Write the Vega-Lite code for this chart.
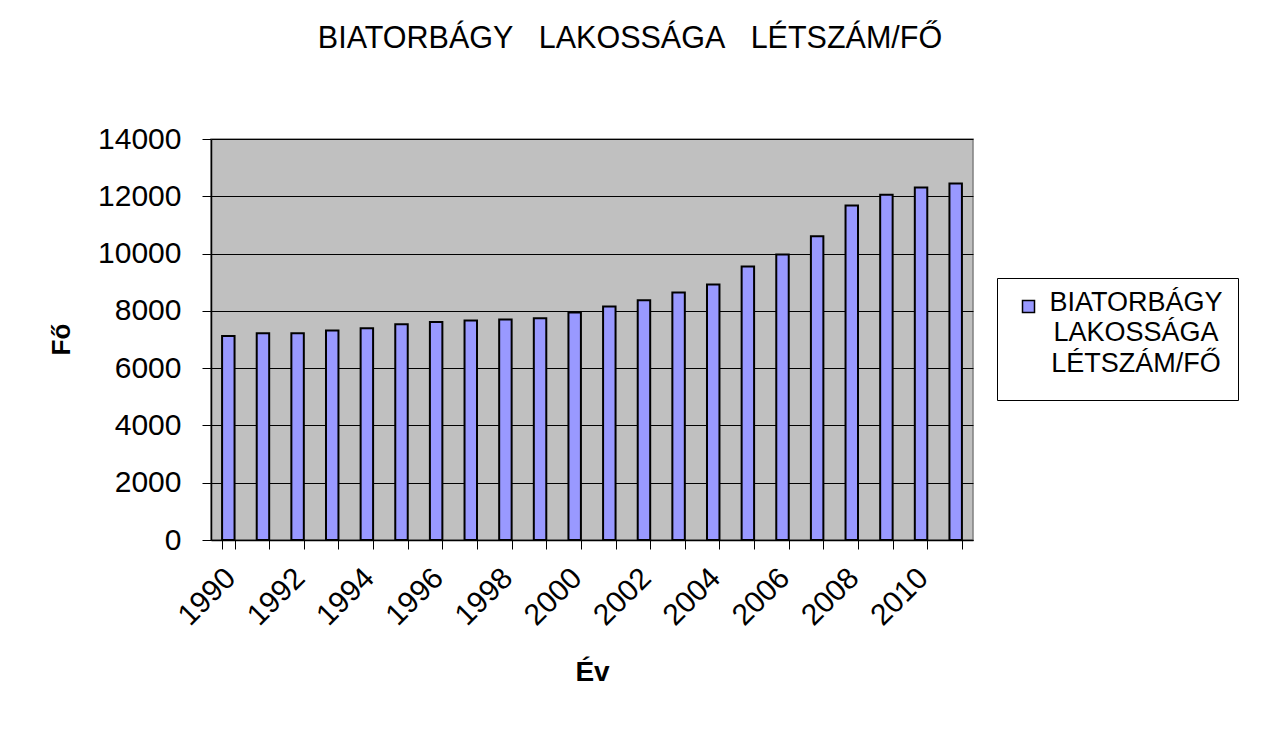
{
  "$schema": "https://vega.github.io/schema/vega-lite/v6.json",
  "width": 762,
  "height": 401,
  "autosize": {"type": "none"},
  "padding": {"left": 211, "top": 139, "right": 291, "bottom": 191},
  "background": "white",
  "title": {
    "text": "BIATORBÁGY\u00a0\u00a0 LAKOSSÁGA\u00a0\u00a0 LÉTSZÁM/FŐ",
    "anchor": "middle",
    "frame": "group",
    "dx": 38,
    "font": "Liberation Sans",
    "fontSize": 30.5,
    "fontWeight": "normal",
    "color": "black",
    "offset": 70
  },
  "data": {
    "values": [
      {"year": 1990, "population": 7120},
      {"year": 1991, "population": 7215},
      {"year": 1992, "population": 7215},
      {"year": 1993, "population": 7310},
      {"year": 1994, "population": 7390},
      {"year": 1995, "population": 7530},
      {"year": 1996, "population": 7610},
      {"year": 1997, "population": 7660},
      {"year": 1998, "population": 7700},
      {"year": 1999, "population": 7740},
      {"year": 2000, "population": 7940},
      {"year": 2001, "population": 8150},
      {"year": 2002, "population": 8370},
      {"year": 2003, "population": 8640},
      {"year": 2004, "population": 8920},
      {"year": 2005, "population": 9545},
      {"year": 2006, "population": 9965},
      {"year": 2007, "population": 10605},
      {"year": 2008, "population": 11680},
      {"year": 2009, "population": 12050},
      {"year": 2010, "population": 12310},
      {"year": 2011, "population": 12450}
    ]
  },
  "mark": {"type": "bar", "stroke": "black", "strokeWidth": 2, "opacity": 1},
  "encoding": {
    "x": {
      "field": "year",
      "type": "ordinal",
      "title": "Év",
      "scale": {"paddingInner": 0.64, "paddingOuter": 0.32},
      "axis": {
        "labelExpr": "datum.value % 2 == 0 ? datum.label : ''",
        "labelAngle": -45,
        "labelAlign": "right",
        "labelBaseline": "middle",
        "labelFont": "Liberation Sans",
        "labelFontSize": 30,
        "labelColor": "black",
        "labelOverlap": false,
        "labelPadding": 24,
        "labelOffset": 2,
        "tickBand": "extent",
        "tickColor": "black",
        "tickSize": 9,
        "tickWidth": 1,
        "domainColor": "black",
        "domainWidth": 1.5,
        "grid": false,
        "titleFont": "Liberation Sans",
        "titleFontSize": 28,
        "titleFontWeight": "bold",
        "titleColor": "black",
        "titleY": 132,
        "titleBaseline": "middle"
      }
    },
    "y": {
      "field": "population",
      "type": "quantitative",
      "title": "Fő",
      "scale": {"domain": [0, 14000], "nice": false},
      "axis": {
        "values": [0, 2000, 4000, 6000, 8000, 10000, 12000, 14000],
        "format": "d",
        "labelFont": "Liberation Sans",
        "labelFontSize": 30,
        "labelColor": "black",
        "labelPadding": 21,
        "tickColor": "black",
        "tickSize": 9,
        "domainColor": "black",
        "domainWidth": 1.5,
        "grid": true,
        "gridColor": "black",
        "gridWidth": 1,
        "gridOpacity": 1,
        "titleFont": "Liberation Sans",
        "titleFontSize": 26,
        "titleFontWeight": "bold",
        "titleColor": "black",
        "titleAngle": -90,
        "titleX": -150,
        "titleY": 200,
        "titleAlign": "center",
        "titleBaseline": "middle"
      }
    },
    "color": {
      "datum": "BIATORBÁGY LAKOSSÁGA LÉTSZÁM/FŐ",
      "type": "nominal",
      "scale": {"range": ["#9999FF"]},
      "legend": {
        "orient": "none",
        "legendX": 786,
        "legendY": 139,
        "title": " ",
        "titleOrient": "bottom",
        "titleFontSize": 4,
        "titlePadding": 4,
        "labelExpr": "['BIATORBÁGY', 'LAKOSSÁGA', 'LÉTSZÁM/FŐ']",
        "labelFont": "Liberation Sans",
        "labelFontSize": 27,
        "labelColor": "black",
        "labelLimit": 0,
        "labelAlign": "center",
        "labelOffset": 94,
        "labelBaseline": "alphabetic",
        "symbolType": "square",
        "symbolSize": 144,
        "symbolStrokeColor": "black",
        "symbolStrokeWidth": 1.5,
        "symbolFillColor": "#9999FF",
        "symbolOpacity": 1,
        "padding": 15,
        "symbolOffset": 3,
        "strokeColor": "black",
        "fillColor": "white",
        "cornerRadius": 0,
        "encode": {
          "labels": {"update": {"lineHeight": {"value": 30.5}, "dy": {"value": 4}}}
        }
      }
    }
  },
  "config": {
    "view": {"fill": "#C0C0C0", "stroke": "#808080", "strokeWidth": 1.5}
  }
}
